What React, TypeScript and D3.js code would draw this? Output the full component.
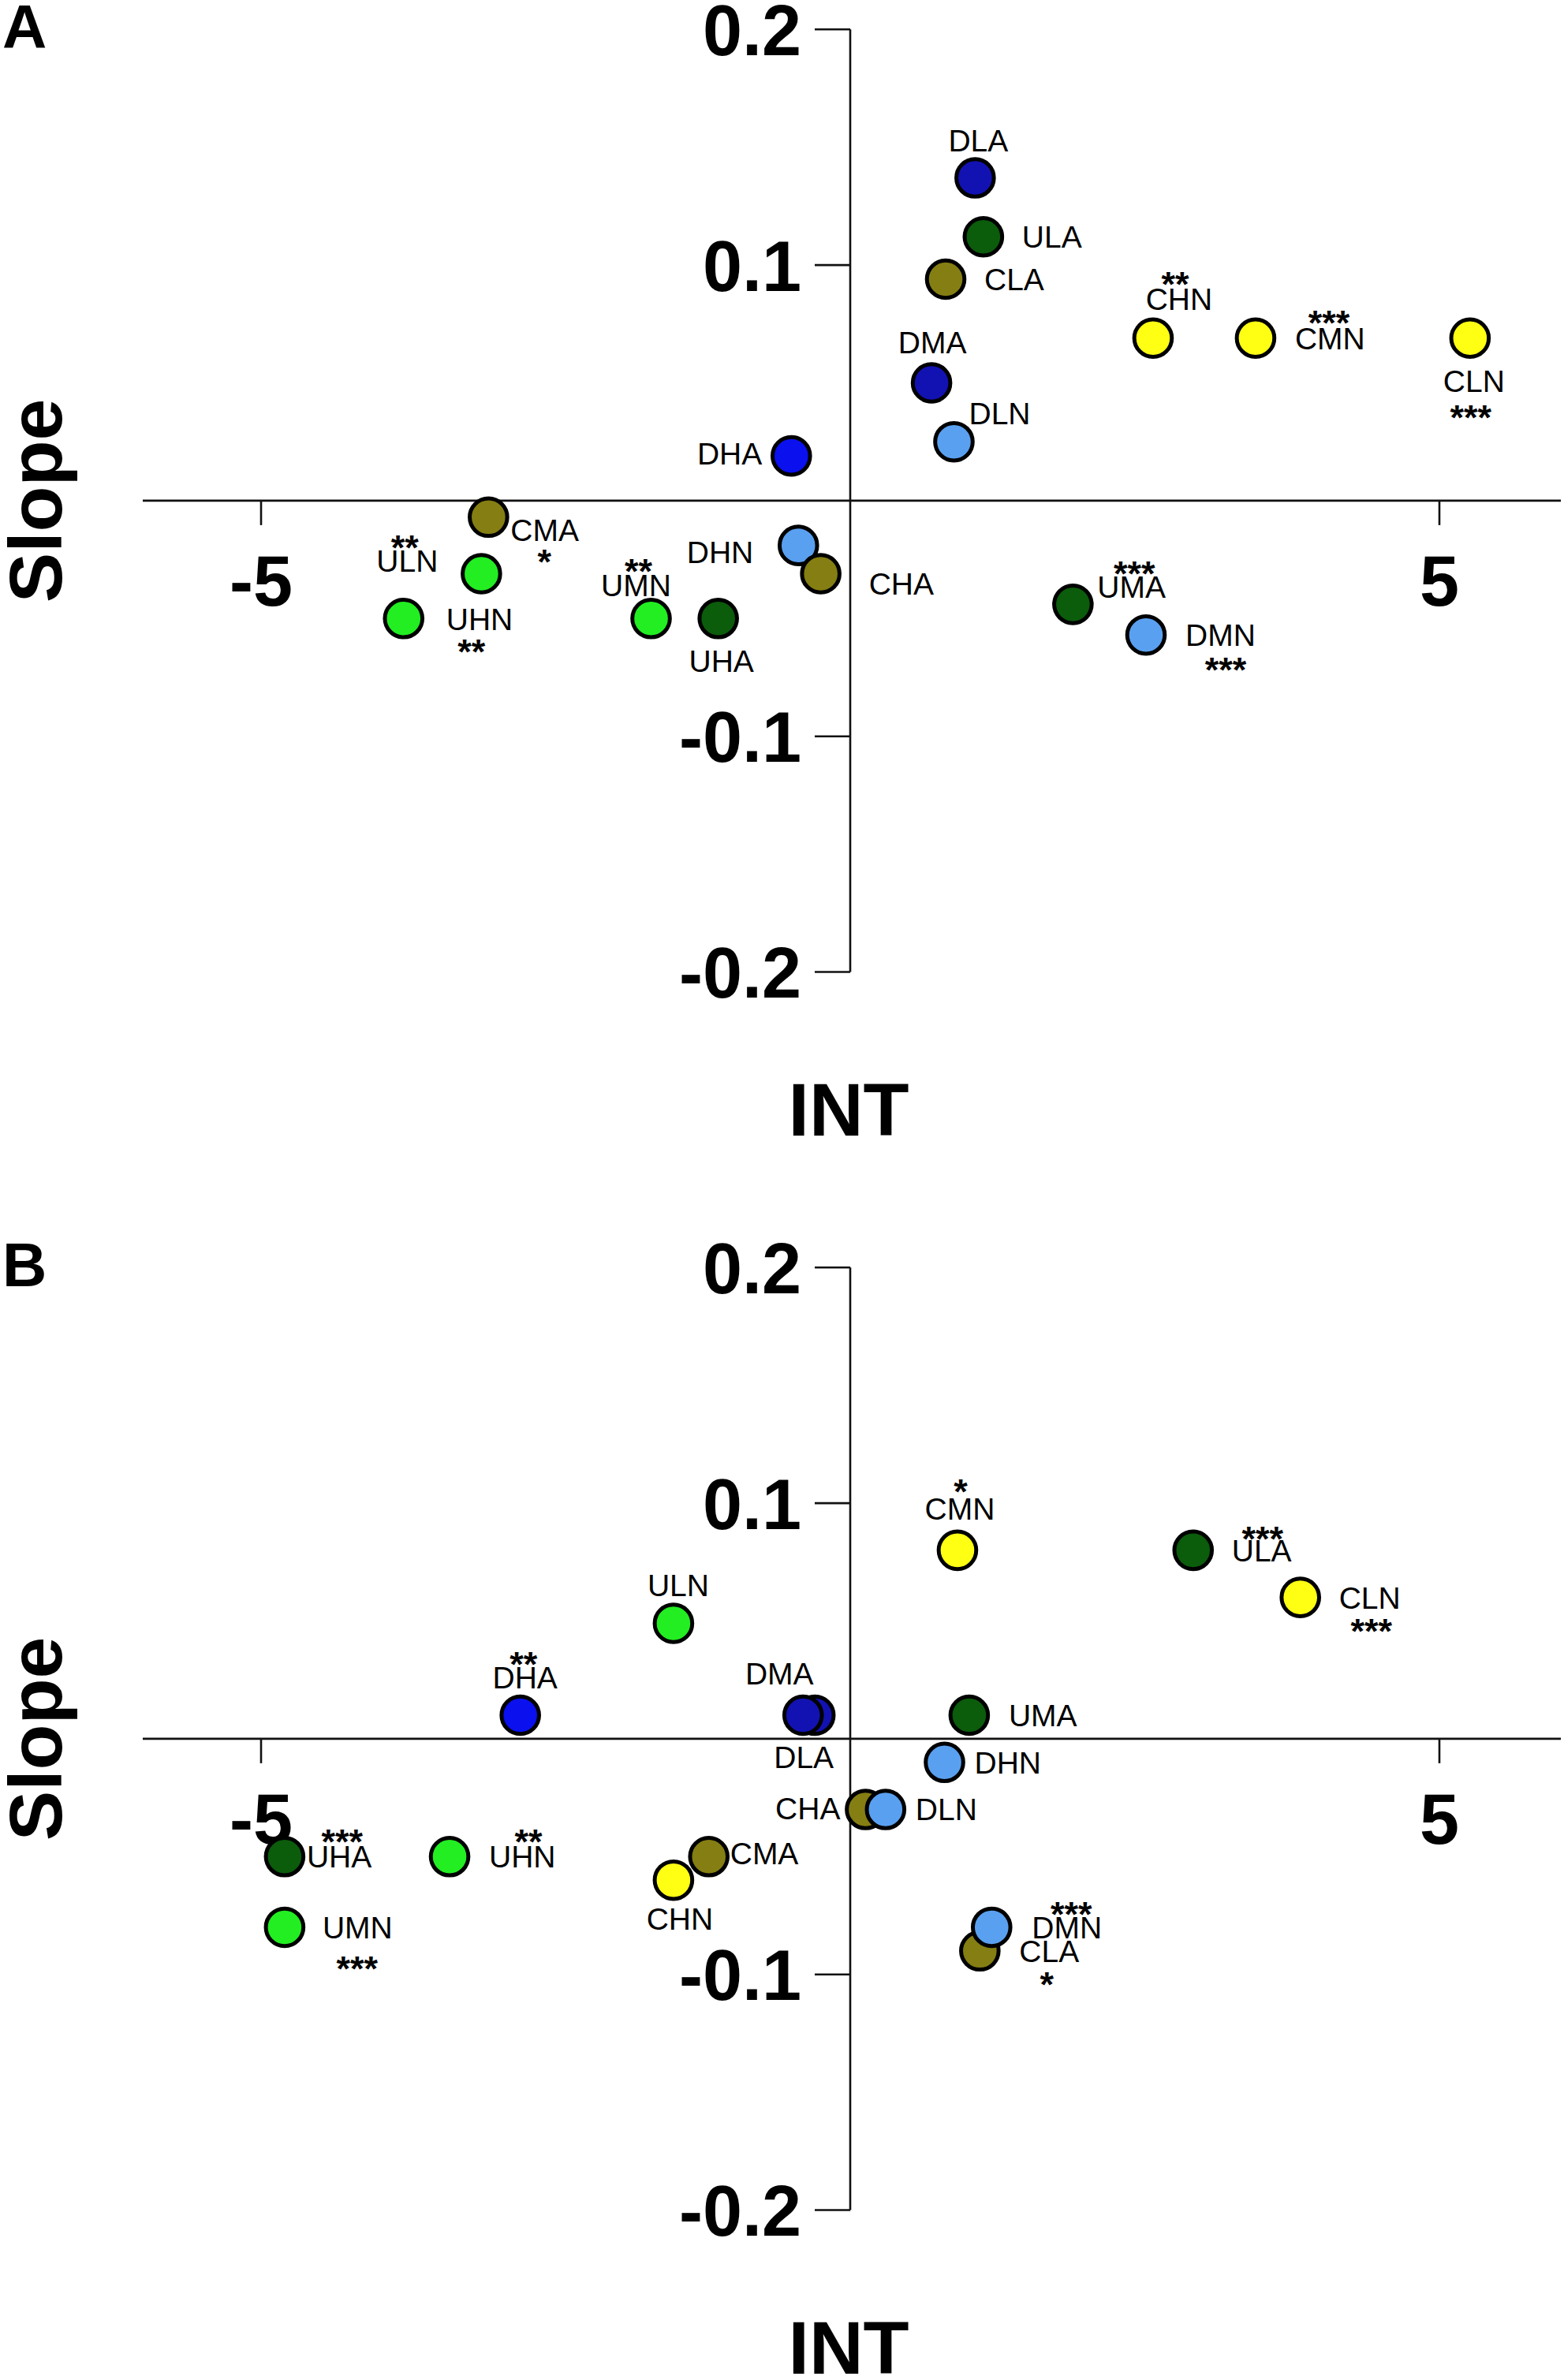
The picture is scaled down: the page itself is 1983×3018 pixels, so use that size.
import { useEffect } from "react";
import * as d3 from "d3";

// ── Panel A: reaction norms (INT vs Slope) ─────────────────────────────────
const NAMES_A = ["DLA", "ULA", "CLA", "DMA", "DLN", "DHA", "CHN", "CMN", "CLN", "CMA", "ULN", "UHN", "UMN", "UHA", "DHN", "CHA", "UMA", "DMN"];
const INT_A = [1.06, 1.13, 0.81, 0.69, 0.88, -0.5, 2.57, 3.44, 5.26, -3.07, -3.13, -3.79, -1.69, -1.12, -0.44, -0.25, 1.89, 2.51];
const SLOPE_A = [0.137, 0.112, 0.094, 0.05, 0.025, 0.019, 0.069, 0.069, 0.069, -0.007, -0.031, -0.05, -0.05, -0.05, -0.019, -0.031, -0.044, -0.057];
const SIG_A = ["", "", "", "", "", "", "**", "***", "***", "*", "**", "**", "**", "", "", "", "***", "***"];

// ── Panel B ──────────────────────────────────────────────────────────────────
const NAMES_B = ["ULN", "DHA", "UHA", "UHN", "UMN", "CMA", "CHN", "CMN", "ULA", "CLN", "DLA", "DMA", "UMA", "DHN", "CHA", "DLN", "CLA", "DMN"];
const INT_B = [-1.5, -2.8, -4.8, -3.4, -4.8, -1.2, -1.5, 0.91, 2.91, 3.82, -0.3, -0.4, 1.01, 0.8, 0.13, 0.3, 1.1, 1.2];
const SLOPE_B = [0.049, 0.01, -0.05, -0.05, -0.08, -0.05, -0.06, 0.08, 0.08, 0.06, 0.01, 0.01, 0.01, -0.01, -0.03, -0.03, -0.09, -0.08];
const SIG_B = ["", "**", "***", "**", "***", "", "", "*", "***", "***", "", "", "", "", "", "", "*", "***"];

const X_TICKS = [-5, 5];
const Y_TICKS = [0.2, 0.1, 0, -0.1, -0.2];

// fill per group code
const FILL: Record<string, string> = {
  DLA: "#1212b2", DMA: "#1212b2", DHA: "#0a10ee",
  DLN: "#5aa0f0", DMN: "#5aa0f0", DHN: "#5aa0f0",
  ULA: "#0b5c0b", UMA: "#0b5c0b", UHA: "#0b5c0b",
  ULN: "#22ee22", UMN: "#22ee22", UHN: "#22ee22",
  CLA: "#857e12", CMA: "#857e12", CHA: "#857e12",
  CLN: "#ffff14", CMN: "#ffff14", CHN: "#ffff14",
};

// label placement: [anchor, dx, dy(baseline), starDx, starDy(centre)]
type Place = [string, number, number, number?, number?];
const PLACE_A: Record<string, Place> = {
  DLA: ["middle", 4, -34], ULA: ["start", 49, 14], CLA: ["start", 49, 14],
  DMA: ["middle", 1, -38], DLN: ["start", 19, -22], DHA: ["end", -37, 11],
  CHN: ["middle", 33, -36, 28, -78], CMN: ["start", 50, 14, 93, -29],
  CLN: ["middle", 5, 68, 1, 91], CMA: ["start", 28, 30, 71, 47],
  ULN: ["middle", -94, -3, -97, -43], UHN: ["start", 54, 15, 86, 33],
  UMN: ["middle", -19, -28, -16, -69], UHA: ["middle", 4, 68],
  DHN: ["end", -57, 22], CHA: ["start", 61, 26],
  UMA: ["start", 31, -8, 78, -48], DMN: ["start", 50, 14, 101, 35],
};
const PLACE_B: Record<string, Place> = {
  ULN: ["middle", 6, -34], DHA: ["middle", 6, -34, 4, -74],
  UHA: ["start", 28, 14, 73, -28], UHN: ["start", 50, 14, 100, -28],
  UMN: ["start", 48, 14, 92, 43], CMA: ["start", 27, 10],
  CHN: ["middle", 8, 63], CMN: ["middle", 3, -39, 4, -84],
  ULA: ["start", 49, 14, 88, -24], CLN: ["start", 49, 14, 90, 33],
  DLA: ["middle", -14, 67], DMA: ["middle", -30, -39],
  UMA: ["start", 50, 14], DHN: ["start", 38, 14],
  CHA: ["end", -32, 12], DLN: ["start", 38, 13],
  CLA: ["start", 50, 14, 85, 33], DMN: ["start", 51, 14, 101, -26],
};

const FONT = "'Liberation Sans', Arial, Helvetica, sans-serif";
const PANEL_SHIFT = 1570;

const x = d3.scaleLinear().domain([-5, 5]).range([331, 1825]);
const y = d3.scaleLinear().domain([-0.2, 0.2]).range([1232.5, 37.3]);

function Panel({ tag, names, ints, slopes, sigs, place, dy }: {
  tag: string; names: string[]; ints: number[]; slopes: number[]; sigs: string[];
  place: Record<string, Place>; dy: number;
}) {
  const x0 = x(0);
  const y0 = y(0);
  const pts = names.map((n, i) => ({ n, cx: x(ints[i]), cy: y(slopes[i]), sig: sigs[i] }));
  return (
    <g transform={`translate(0,${dy})`}>
      <text x={3} y={61} fontFamily={FONT} fontWeight="bold" fontSize={78}>{tag}</text>

      {/* axes */}
      <line x1={181} x2={1979} y1={y0} y2={y0} stroke="#111" strokeWidth={2.6} />
      <line x1={x0} x2={x0} y1={y(0.2)} y2={y(-0.2)} stroke="#111" strokeWidth={2.6} />
      {Y_TICKS.filter((t) => t !== 0).map((t) => (
        <g key={t}>
          <line x1={x0 - 45} x2={x0} y1={y(t)} y2={y(t)} stroke="#111" strokeWidth={2.6} />
          <text x={x0 - 62} y={y(t) + 32.5} textAnchor="end" fontFamily={FONT} fontWeight="bold" fontSize={90}>
            {d3.format(".1f")(t).replace("−", "-")}
          </text>
        </g>
      ))}
      {X_TICKS.map((t) => (
        <g key={t}>
          <line x1={x(t)} x2={x(t)} y1={y0} y2={y0 + 31} stroke="#111" strokeWidth={2.6} />
          <text x={x(t)} y={y0 + 133} textAnchor="middle" fontFamily={FONT} fontWeight="bold" fontSize={90}>
            {String(t)}
          </text>
        </g>
      ))}

      {/* titles */}
      <text transform={`translate(78,${y0}) rotate(-90)`} textAnchor="middle" fontFamily={FONT} fontWeight="bold" fontSize={95}>
        Slope
      </text>
      <text x={1076} y={1440} textAnchor="middle" fontFamily={FONT} fontWeight="bold" fontSize={95}>INT</text>

      {/* points */}
      {pts.map((p) => (
        <circle key={p.n} cx={p.cx} cy={p.cy} r={23.8} fill={FILL[p.n]} stroke="#000" strokeWidth={5} />
      ))}

      {/* labels */}
      {pts.map((p) => {
        const [anchor, ldx, ldy, sdx, sdy] = place[p.n];
        return (
          <g key={p.n} fontFamily={FONT}>
            <text x={p.cx + ldx} y={p.cy + ldy} textAnchor={anchor} fontSize={39}>{p.n}</text>
            {p.sig && (
              <text x={p.cx + (sdx ?? 0)} y={p.cy + (sdy ?? 0) + 25} textAnchor="middle" fontSize={45} fontWeight="bold">
                {p.sig}
              </text>
            )}
          </g>
        );
      })}
    </g>
  );
}

export default function App() {
  useEffect(() => {
    document.body.style.margin = "0";
  }, []);
  return (
    <svg width={1983} height={3018} viewBox="0 0 1983 3018" style={{ display: "block", background: "#fff" }}>
      <rect width={1983} height={3018} fill="#fff" />
      <Panel tag="A" names={NAMES_A} ints={INT_A} slopes={SLOPE_A} sigs={SIG_A} place={PLACE_A} dy={0} />
      <Panel tag="B" names={NAMES_B} ints={INT_B} slopes={SLOPE_B} sigs={SIG_B} place={PLACE_B} dy={PANEL_SHIFT} />
    </svg>
  );
}
